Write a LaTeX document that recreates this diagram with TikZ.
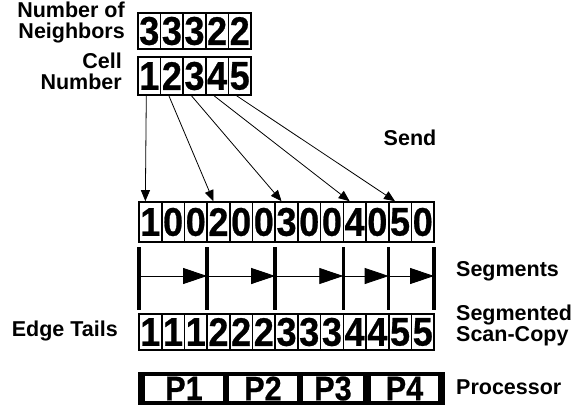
\documentclass[tikz,border=0pt]{standalone}
\usepackage{fontspec}
\setmainfont{Liberation Sans}
\newfontfamily\digitfont[FakeStretch=0.9,FakeBold=0.6]{Liberation Sans}
\usetikzlibrary{arrows.meta,fit,backgrounds}

\begin{document}
\begin{tikzpicture}[x=1pt,y=-1pt]
\tikzstyle{cell}=[draw,line width=1.6pt,minimum width=22.7pt,minimum height=36pt,inner sep=0pt,font=\digitfont\fontsize{40}{40}\selectfont\bfseries]
\tikzstyle{lbl}=[inner sep=0pt,font=\fontsize{21.5}{21}\selectfont\bfseries]
\tikzstyle{send}=[line width=0.8pt,-{Triangle[length=11pt,width=9pt]}]
\tikzstyle{seg}=[line width=0.8pt,-{Triangle[length=24pt,width=16pt]}]
\tikzstyle{bar}=[line width=3.5pt]
\tikzstyle{proc}=[fill=white,minimum height=25pt,inner sep=0pt,font=\digitfont\fontsize{34}{34}\selectfont\bfseries]
\useasboundingbox (0,0) rectangle (582,408);
% input rows
\foreach \n [count=\i] in {3,3,3,2,2}
  \node[cell,minimum width=22.6pt] (nb\i) at ({138+22.6*(\i-0.5)},31) {\n};
\foreach \i in {1,...,5}
  \node[cell,minimum width=22.6pt,minimum height=38pt] (c\i) at ({138+22.6*(\i-0.5)},76) {\i};
\node[lbl,anchor=east,align=right] (nbl) at (125,22) {Number of\\Neighbors};
\node[lbl,anchor=east,align=right] (cnl) at (122,71) {Cell\\Number};
% send row
\foreach \n [count=\i] in {1,0,0,2,0,0,3,0,0,4,0,5,0}
  \node[cell,minimum height=40pt] (s\i) at ({139+22.7*(\i-0.5)},222) {\n};
\draw[send] ([xshift=-3pt]c1.south) -- ([xshift=-5pt]s1.north);
\draw[send] ([xshift=-3pt]c2.south) -- ([xshift=-5pt]s4.north);
\draw[send] ([xshift=-3pt]c3.south) -- ([xshift=-5pt]s7.north);
\draw[send] ([xshift=-3pt]c4.south) -- ([xshift=-5pt]s10.north);
\draw[send] ([xshift=-3pt]c5.south) -- ([xshift=-5pt]s12.north);
\node[lbl] (sendl) at (410,138) {Send};
% segments
\foreach \k [count=\i] in {0,3,6,9,11,13} {
  \coordinate (m\i) at ({139+22.7*\k},276);
  \draw[bar] (m\i) ++(0,-29) -- ++(0,63);
}
\foreach \i [evaluate=\i as \j using int(\i+1)] in {1,...,5}
  \draw[seg] (m\i) -- (m\j);
\node[lbl,anchor=west] (segl) at (456,271) {Segments};
% scan-copy row
\foreach \n [count=\i] in {1,1,1,2,2,2,3,3,3,4,4,5,5}
  \node[cell] (t\i) at ({139+22.7*(\i-0.5)},332) {\n};
\node[lbl,anchor=east] (etl) at (118,331) {Edge Tails};
\node[lbl,anchor=west,align=left] (scl) at (456,325) {Segmented\\Scan-Copy};
% processors
\node[proc,minimum width=78pt] (p1) at (184,388.5) {P1};
\node[proc,minimum width=68pt] (p2) at (263,388.5) {P2};
\node[proc,minimum width=60pt] (p3) at (333,388.5) {P3};
\node[proc,minimum width=67pt] (p4) at (404.5,388.5) {P4};
\begin{scope}[on background layer]
\node[fit=(p1)(p4),fill=black,inner xsep=7pt,inner ysep=3.5pt] (prow) {};
\end{scope}
\node[lbl,anchor=west] (prl) at (456,387) {Processor};
\end{tikzpicture}
\end{document}
